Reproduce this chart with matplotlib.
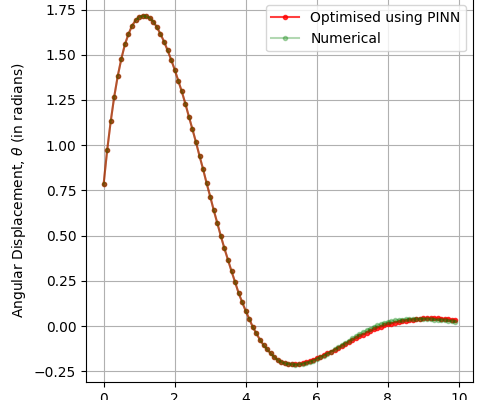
import numpy as np
import matplotlib
matplotlib.use("Agg")
import matplotlib.pyplot as plt

# time samples (s)
t = np.round(np.arange(0, 10, 0.1), 1)

# shared part of both curves, t = 0.0 .. 5.2
theta_start = [
    0.783, 0.971, 1.131, 1.269, 1.384, 1.478, 1.557, 1.614, 1.660, 1.690,
    1.708, 1.715, 1.712, 1.703, 1.683, 1.652, 1.615, 1.573, 1.525, 1.473,
    1.418, 1.357, 1.297, 1.230, 1.158, 1.088, 1.016, 0.940, 0.867, 0.789,
    0.716, 0.640, 0.569, 0.497, 0.429, 0.366, 0.303, 0.243, 0.182, 0.132,
    0.083, 0.039, -0.006, -0.041, -0.076, -0.105, -0.129, -0.151, -0.171, -0.188,
    -0.199, -0.206, -0.210,
]

# t = 5.3 .. 9.9
pinn_tail = [
    -0.211, -0.212, -0.211, -0.207, -0.201, -0.194, -0.186, -0.178, -0.169, -0.160,
    -0.151, -0.141, -0.131, -0.121, -0.110, -0.099, -0.088, -0.077, -0.067, -0.057,
    -0.047, -0.037, -0.028, -0.019, -0.011, -0.004, 0.003, 0.009, 0.014, 0.019,
    0.023, 0.027, 0.030, 0.033, 0.035, 0.037, 0.039, 0.042, 0.043, 0.043,
    0.043, 0.042, 0.041, 0.039, 0.037, 0.034, 0.032,
]
numerical_tail = [
    -0.212, -0.213, -0.212, -0.209, -0.204, -0.198, -0.191, -0.182, -0.173, -0.163,
    -0.152, -0.141, -0.129, -0.117, -0.104, -0.092, -0.080, -0.068, -0.056, -0.045,
    -0.034, -0.024, -0.014, -0.005, 0.003, 0.010, 0.017, 0.022, 0.027, 0.031,
    0.034, 0.036, 0.038, 0.039, 0.040, 0.040, 0.040, 0.039, 0.038, 0.037,
    0.036, 0.034, 0.033, 0.031, 0.029, 0.027, 0.025,
]

theta_pinn = theta_start + pinn_tail
theta_num = theta_start + numerical_tail

fig = plt.figure(figsize=(4.83, 4.0), dpi=100)
ax = fig.add_axes([86 / 483, 18 / 400, 387 / 483, 383.6 / 400])

ax.plot(t, theta_pinn, "r.-", alpha=0.75, label="Optimised using PINN")
ax.plot(t, theta_num, "g.-", alpha=0.3, label="Numerical")

ax.set_ylabel(r"Angular Displacement, $\theta$ (in radians)")
ax.grid(True)
ax.legend(loc="upper right")

fig.savefig("out.png", dpi=100)
